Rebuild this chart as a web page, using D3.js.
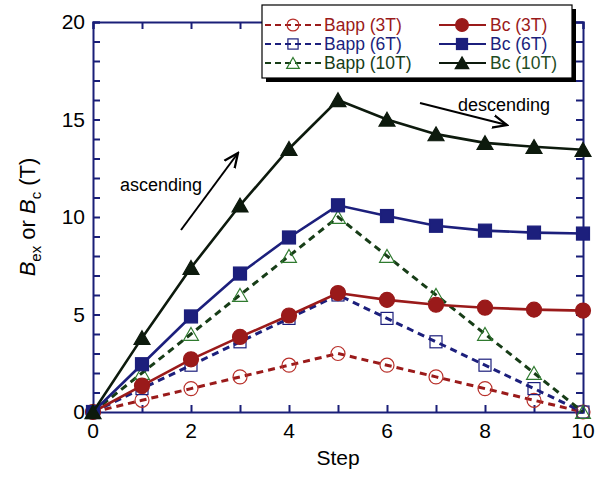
<!DOCTYPE html>
<html>
<head>
<meta charset="utf-8">
<script src="https://cdn.jsdelivr.net/npm/d3@7"></script>
<style>
  body { margin: 0; background: #fff; }
  text { font-family: "Liberation Sans", Arial, sans-serif; }
</style>
</head>
<body>
<svg id="chart"></svg>
<script>
// DATA
const steps = [0, 1, 2, 3, 4, 5, 6, 7, 8, 9, 10];
const bapp3 = [0, 0.6, 1.2, 1.8, 2.4, 3.0, 2.4, 1.8, 1.2, 0.6, 0];
const bapp6 = [0, 1.2, 2.4, 3.6, 4.8, 6.0, 4.8, 3.6, 2.4, 1.2, 0];
const bapp10 = [0, 2, 4, 6, 8, 10, 8, 6, 4, 2, 0];
const bc3 = [0, 1.35, 2.7, 3.85, 4.95, 6.1, 5.75, 5.5, 5.35, 5.25, 5.2];
const bc6 = [0, 2.45, 4.9, 7.1, 8.95, 10.6, 10.05, 9.55, 9.3, 9.2, 9.15];
const bc10 = [0, 3.8, 7.4, 10.6, 13.5, 16.0, 15.0, 14.25, 13.8, 13.6, 13.45];
const xTicks = [0, 2, 4, 6, 8, 10];
const yTicks = [0, 5, 10, 15, 20];

// SET VARIABLES
const _w = 598, _h = 477;
const _margin = {top: 22, right: 15, bottom: 65, left: 93};
const _color = {red: '#9a1a1a', blue: '#1c1f7c', green: '#173d17', black: '#0d1a0d', axis: '#1a1f78'};

const series = [
  {name: 'Bapp (3T)', values: bapp3, color: _color.red, dash: true, shape: 'circle', fill: false},
  {name: 'Bapp (6T)', values: bapp6, color: _color.blue, dash: true, shape: 'square', fill: false},
  {name: 'Bapp (10T)', values: bapp10, color: _color.green, dash: true, shape: 'triangle', fill: false},
  {name: 'Bc (3T)', values: bc3, color: _color.red, dash: false, shape: 'circle', fill: true},
  {name: 'Bc (6T)', values: bc6, color: _color.blue, dash: false, shape: 'square', fill: true},
  {name: 'Bc (10T)', values: bc10, color: _color.black, dash: false, shape: 'triangle', fill: true}
];

const svg = d3.select('#chart').attr('width', _w).attr('height', _h);

const x = d3.scaleLinear().domain([0, 10]).range([_margin.left, _w - _margin.right]);
const y = d3.scaleLinear().domain([0, 20]).range([_h - _margin.bottom, _margin.top]);

// AXES (ticks pointing inward on all four sides)
const axisG = svg.append('g');
axisG.append('g')
  .attr('transform', `translate(0, ${y(0)})`)
  .call(d3.axisBottom(x).tickValues(steps).tickSize(-7).tickFormat(''));
axisG.append('g')
  .attr('transform', `translate(0, ${y(20)})`)
  .call(d3.axisTop(x).tickValues(steps).tickSize(-7).tickFormat(''));
axisG.append('g')
  .attr('transform', `translate(${x(0)}, 0)`)
  .call(d3.axisLeft(y).tickValues(d3.range(0, 21, 1)).tickSize(-7).tickFormat(''));
axisG.append('g')
  .attr('transform', `translate(${x(10)}, 0)`)
  .call(d3.axisRight(y).tickValues(d3.range(0, 21, 1)).tickSize(-7).tickFormat(''));
axisG.selectAll('path, line').attr('stroke', _color.axis).attr('stroke-width', 2);

// tick labels
svg.append('g').selectAll('text')
  .data(xTicks).enter()
  .append('text')
    .attr('x', d => x(d))
    .attr('y', y(0) + 26)
    .attr('text-anchor', 'middle')
    .attr('font-size', 21)
    .text(d => d);
svg.append('g').selectAll('text')
  .data(yTicks).enter()
  .append('text')
    .attr('x', x(0) - 8)
    .attr('y', d => y(d) + 7)
    .attr('text-anchor', 'end')
    .attr('font-size', 21)
    .text(d => d);

svg.append('text')
  .attr('x', x(5))
  .attr('y', _h - 12)
  .attr('text-anchor', 'middle')
  .attr('font-size', 21)
  .text('Step');

const yLabel = svg.append('text')
  .attr('transform', `translate(35, ${(y(0) + y(20)) / 2}) rotate(-90)`)
  .attr('text-anchor', 'middle')
  .attr('font-size', 22);
yLabel.append('tspan').attr('font-style', 'italic').text('B');
yLabel.append('tspan').attr('font-size', 15).attr('dy', 6).text('ex');
yLabel.append('tspan').attr('dy', -6).text(' or ');
yLabel.append('tspan').attr('font-style', 'italic').text('B');
yLabel.append('tspan').attr('font-size', 15).attr('dy', 6).text('c');
yLabel.append('tspan').attr('dy', -6).text(' (T)');

// MARKERS
function drawMarker(g, s, cx, cy, scale) {
  const k = scale || 1;
  const fill = s.fill ? s.color : 'none';
  const stroke = s.shape === 'triangle' && !s.fill ? '#2f7a2f' : (s.shape === 'circle' && !s.fill ? '#b8302a' : s.color);
  if (s.shape === 'circle') {
    g.append('circle').attr('cx', cx).attr('cy', cy).attr('r', (s.fill ? 7.5 : 7) * k)
      .attr('fill', fill).attr('stroke', stroke).attr('stroke-width', 1.2);
  } else if (s.shape === 'square') {
    const a = (s.fill ? 13 : 12) * k;
    g.append('rect').attr('x', cx - a / 2).attr('y', cy - a / 2).attr('width', a).attr('height', a)
      .attr('fill', fill).attr('stroke', stroke).attr('stroke-width', 1.2);
  } else {
    const sym = d3.symbol().type(d3.symbolTriangle).size((s.fill ? 110 : 95) * k * k);
    g.append('path').attr('d', sym).attr('transform', `translate(${cx}, ${cy + 2 * k})`)
      .attr('fill', fill).attr('stroke', stroke).attr('stroke-width', 1.2);
  }
}

const line = d3.line().x((d, i) => x(steps[i])).y(d => y(d));
const plot = svg.append('g');

// dashed Bapp first, Bc on top
series.forEach(s => {
  plot.append('path')
    .datum(s.values)
    .attr('d', line)
    .attr('fill', 'none')
    .attr('stroke', s.color)
    .attr('stroke-width', s.dash ? 3 : 2.6)
    .attr('stroke-dasharray', s.dash ? '7,5' : null);
  const mg = plot.append('g');
  s.values.forEach((v, i) => drawMarker(mg, s, x(steps[i]), y(v)));
});

// ANNOTATIONS
svg.append('defs').append('marker')
  .attr('id', 'arrow')
  .attr('viewBox', '0 0 10 10')
  .attr('refX', 9).attr('refY', 5)
  .attr('markerWidth', 8).attr('markerHeight', 8)
  .attr('orient', 'auto')
  .append('path')
    .attr('d', 'M0,1 L9,5 L0,9')
    .attr('fill', 'none')
    .attr('stroke', '#000')
    .attr('stroke-width', 1.4);

svg.append('line')
  .attr('x1', 181).attr('y1', 230).attr('x2', 238).attr('y2', 153)
  .attr('stroke', '#000').attr('stroke-width', 2).attr('marker-end', 'url(#arrow)');
svg.append('text').attr('x', 120).attr('y', 191).attr('font-size', 18).text('ascending');

svg.append('line')
  .attr('x1', 420).attr('y1', 103).attr('x2', 507).attr('y2', 125)
  .attr('stroke', '#000').attr('stroke-width', 2).attr('marker-end', 'url(#arrow)');
svg.append('text').attr('x', 458).attr('y', 111).attr('font-size', 18).text('descending');

// LEGEND
const legend = svg.append('g').attr('transform', 'translate(262, 5)');
legend.append('rect').attr('x', 4).attr('y', 4).attr('width', 310).attr('height', 73).attr('fill', '#000');
legend.append('rect').attr('x', 0).attr('y', 0).attr('width', 310).attr('height', 73)
  .attr('fill', '#fff').attr('stroke', '#000').attr('stroke-width', 1.2);

series.forEach((s, i) => {
  const col = Math.floor(i / 3), row = i % 3;
  const g = legend.append('g').attr('transform', `translate(${col === 0 ? 3 : 177}, ${20 + row * 19})`);
  g.append('line').attr('x1', 0).attr('x2', col === 0 ? 57 : 47).attr('y1', 0).attr('y2', 0)
    .attr('stroke', s.color).attr('stroke-width', 2)
    .attr('stroke-dasharray', s.dash ? '6,4' : null);
  drawMarker(g, s, col === 0 ? 28 : 23, 0, 0.85);
  g.append('text').attr('x', col === 0 ? 59 : 51).attr('y', 6)
    .attr('font-size', 17.5).attr('fill', s.color === _color.black ? '#1f4d1f' : s.color)
    .text(s.name);
});
</script>
</body>
</html>
